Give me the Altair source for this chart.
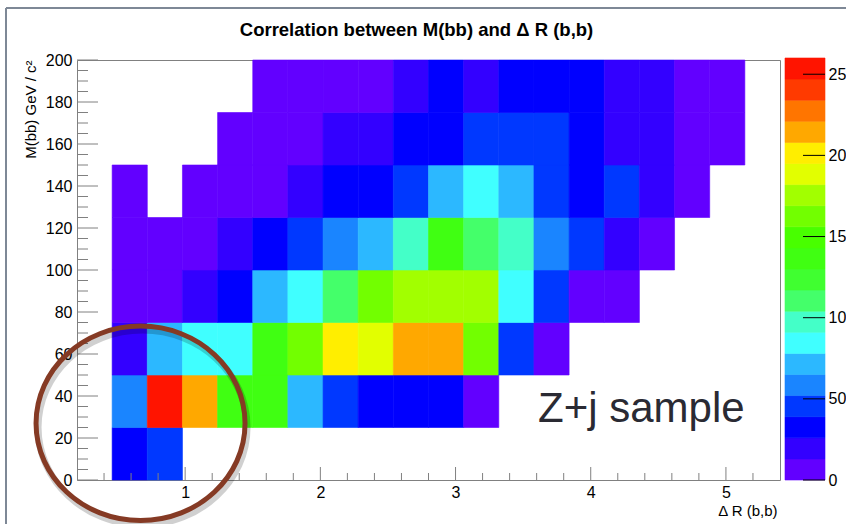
import altair as alt
import pandas as pd

# ---------------- data ----------------
dr_lo = [0.46, 0.72, 0.98, 1.24, 1.50, 1.76, 2.02, 2.28, 2.54, 2.80,
         3.06, 3.32, 3.58, 3.84, 4.10, 4.36, 4.62, 4.88]
dr_width = 0.26
mbb_lo = [0, 25, 50, 75, 100, 125, 150, 175]
mbb_width = 25
N = None
counts_0 = [33, 45, N, N, N, N, N, N, N, N, N, N, N, N, N, N, N, N]
counts_25 = [58, 252, 214, 136, 139, 71, 46, 31, 34, 30, 8, N, N, N, N, N, N, N]
counts_50 = [19, 70, 83, 85, 134, 161, 201, 188, 215, 217, 160, 44, 9, N, N, N, N, N]
counts_75 = [10, 11, 22, 33, 72, 84, 110, 163, 175, 177, 173, 86, 47, 9, 7, N, N, N]
counts_100 = [8, 10, 12, 20, 31, 44, 59, 73, 96, 137, 112, 97, 57, 43, 18, 6, N, N]
counts_125 = [5, N, 7, 9, 11, 17, 29, 32, 42, 68, 82, 70, 45, 33, 41, 20, 6, N]
counts_150 = [N, N, N, 4, 8, 10, 16, 21, 28, 30, 40, 43, 41, 35, 24, 18, 9, 5]
counts_175 = [N, N, N, N, 6, 9, 10, 11, 15, 27, 22, 29, 36, 32, 19, 25, 8, 7]
count_rows = [counts_0, counts_25, counts_50, counts_75,
              counts_100, counts_125, counts_150, counts_175]

palette = ["#6200FF", "#3300FF", "#0000FF", "#0038FF", "#1A85FF",
           "#2CB8FF", "#40FFFF", "#44FFC8", "#44FF6A", "#40FF30",
           "#40FF12", "#48FF00", "#72FF00", "#A2FF00", "#E2FF00",
           "#FFEE00", "#FFA800", "#FF7500", "#FF3A00", "#FF1400"]
z_max = 260
z_ticks = [0, 50, 100, 150, 200, 250]

x_major = [1, 2, 3, 4, 5]
y_major = [0, 20, 40, 60, 80, 100, 120, 140, 160, 180, 200]

title_text = "Correlation between M(bb) and Δ R (b,b)"
x_title = "Δ R (b,b)"
y_title = "M(bb) GeV / c²"
note_text = "Z+j sample"
note_x, note_y = 3.61, 27.6
ring_x, ring_y = 0.67, 27.0

# ---------------- tables ----------------
rows = []
for ylo, crow in zip(mbb_lo, count_rows):
    for xlo, c in zip(dr_lo, crow):
        if c is not None:
            rows.append({"x": xlo, "x2": round(xlo + dr_width, 2),
                         "y": ylo, "y2": ylo + mbb_width, "count": c})
cells = pd.DataFrame(rows)

step = z_max / len(palette)
bar = pd.DataFrame({"lo": [k * step for k in range(len(palette))]})
bar["hi"] = bar["lo"] + step
bar["mid"] = bar["lo"] + step / 2

x_minor = [round(0.2 * k, 1) for k in range(2, 27) if (2 * k) % 10 != 0]
y_minor = [v for v in range(0, 201, 5) if v % 20 != 0]

FONT = "Liberation Sans"
W, H = 703, 420
GREY = "#808080"
xs = alt.Scale(domain=[0.2, 5.4], nice=False, zero=False)
ys = alt.Scale(domain=[0, 200], nice=False, zero=False)
cs = alt.Scale(type="quantize", domain=[0, z_max], range=palette, nice=False, zero=False)
zs = alt.Scale(domain=[0, z_max], range=[H, -2], nice=False, zero=False)

x_axis = alt.Axis(values=x_major, ticks=False, domain=False, grid=False,
                  labelPadding=4, labelFontSize=16, labelFont=FONT,
                  labelColor="black", title=x_title,
                  titleFont=FONT, titleFontSize=15, titleFontWeight="normal",
                  titleColor="black", titleX=700, titleY=30,
                  titleAlign="right", titleBaseline="middle")
y_axis = alt.Axis(values=y_major, ticks=False, domain=False, grid=False,
                  labelPadding=5, labelFontSize=16, labelFont=FONT,
                  labelColor="black", title=y_title,
                  titleFont=FONT, titleFontSize=15, titleFontWeight="normal",
                  titleColor="black", titleX=-47, titleY=0, titleAngle=-90,
                  titleAlign="right", titleBaseline="middle")
z_axis = alt.Axis(values=z_ticks, orient="right", offset=45, ticks=False,
                  domain=False, grid=False, labelPadding=3, labelFontSize=16,
                  labelFont=FONT, labelColor="black", title=None)


def X(field):
    return alt.X(field, scale=xs, axis=x_axis, title=x_title)


def Y(field):
    return alt.Y(field, scale=ys, axis=y_axis, title=y_title)


def Z(field):
    return alt.Y(field, scale=zs, axis=z_axis, title=None)


heat = alt.Chart(cells).mark_rect(strokeWidth=0.6).encode(
    x=X("x:Q"), x2="x2:Q", y=Y("y:Q"), y2="y2:Q",
    color=alt.Color("count:Q", scale=cs, legend=None),
    stroke=alt.Stroke("count:Q", scale=cs, legend=None),
)

ytick_major = alt.Chart(pd.DataFrame({"y": y_major})).mark_rule(color=GREY, strokeWidth=1).encode(
    y=Y("y:Q"), x=alt.value(0), x2=alt.value(21))
ytick_minor = alt.Chart(pd.DataFrame({"y": y_minor})).mark_rule(color=GREY, strokeWidth=1).encode(
    y=Y("y:Q"), x=alt.value(0), x2=alt.value(11))
xtick_major = alt.Chart(pd.DataFrame({"x": x_major})).mark_rule(color=GREY, strokeWidth=1).encode(
    x=X("x:Q"), y=alt.value(H), y2=alt.value(H - 13))
xtick_minor = alt.Chart(pd.DataFrame({"x": x_minor})).mark_rule(color=GREY, strokeWidth=1).encode(
    x=X("x:Q"), y=alt.value(H), y2=alt.value(H - 7))

ring_path = "M -1 0 A 1 0.93 0 1 0 1 0 A 1 0.93 0 1 0 -1 0 Z"
ring_df = pd.DataFrame({"x": [ring_x], "y": [ring_y]})
ring_shadow = alt.Chart(ring_df).mark_point(
    shape=ring_path, size=43681, filled=False, stroke="#000000", strokeWidth=7,
    opacity=0.18, xOffset=2, yOffset=4).encode(x=X("x:Q"), y=Y("y:Q"))
ring = alt.Chart(ring_df).mark_point(
    shape=ring_path, size=43681, filled=False, stroke="#853A24", strokeWidth=5,
    opacity=1).encode(x=X("x:Q"), y=Y("y:Q"))

note = alt.Chart(pd.DataFrame({"x": [note_x], "y": [note_y], "t": [note_text]})).mark_text(
    font=FONT, fontSize=42, color="#2A2A33", align="left", baseline="alphabetic").encode(
    x=X("x:Q"), y=Y("y:Q"), text="t:N")

frame_top = alt.Chart(pd.DataFrame({"a": [0]})).mark_rule(color="#7E8896", strokeWidth=2).encode(
    x=alt.value(-71), x2=alt.value(W + 66), y=alt.value(-52))
frame_left = alt.Chart(pd.DataFrame({"a": [0]})).mark_rule(color="#7E8896", strokeWidth=2).encode(
    x=alt.value(-71), y=alt.value(-52), y2=alt.value(H + 44))

main = alt.layer(heat, ytick_major, ytick_minor, xtick_major, xtick_minor,
                 ring_shadow, ring, note, frame_top, frame_left)

cbar_rect = alt.Chart(bar).mark_rect(strokeWidth=0.6).encode(
    y=Z("lo:Q"), y2="hi:Q",
    x=alt.value(708), x2=alt.value(748),
    color=alt.Color("mid:Q", scale=cs, legend=None),
    stroke=alt.Stroke("mid:Q", scale=cs, legend=None),
)
cbar_ticks = alt.Chart(pd.DataFrame({"lo": z_ticks})).mark_rule(color="black", strokeWidth=1).encode(
    y=Z("lo:Q"), x=alt.value(726), x2=alt.value(748))
cbar = alt.layer(cbar_rect, cbar_ticks)

chart = alt.layer(main, cbar).resolve_scale(y="independent").properties(
    width=W, height=H,
    title=alt.Title(title_text, font=FONT, fontSize=18.5, fontWeight="bold",
                    color="black", anchor="middle", frame="group", dx=-12,
                    offset=-41, baseline="middle"),
    autosize=alt.AutoSizeParams(type="none"),
    padding={"left": 77, "top": 60, "right": 66, "bottom": 44},
).configure_view(stroke=GREY, strokeWidth=1).configure_axis(grid=False)

chart.save("out.html", embed_options={"renderer": "svg", "actions": False})
